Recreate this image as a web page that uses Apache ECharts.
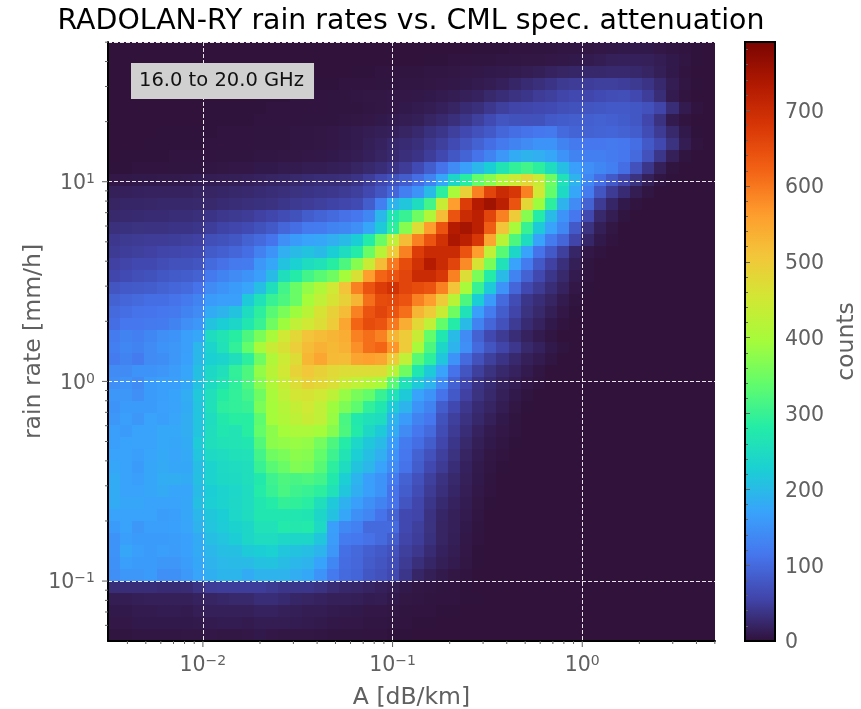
<!DOCTYPE html>
<html><head><meta charset="utf-8">
<style>html,body{margin:0;padding:0;background:#fff}#c{width:861px;height:709px}</style>
<script src="https://cdn.jsdelivr.net/npm/echarts@6/dist/echarts.min.js"></script>
</head><body><div id="c"></div>
<script>
// Histogram counts, top row (high rain rate) first, left to right.
// 50 log-spaced bins per axis; trailing zeros in a row are omitted.
const rowsTop = [
[0,0,0,0,0,0,0,0,0,0,0,0,0,0,0,0,0,0,0,0,0,0,0,0,0,0,0,0,0,0,1,1,1,2,2,3,3,4,4,5,6,7,8,8,8,6,4,2,1],
[0,0,0,0,0,0,0,0,0,0,0,0,0,0,0,0,0,0,0,0,0,0,0,0,0,0,1,1,2,2,3,3,4,4,5,5,6,7,8,10,12,15,16,16,15,12,8,4,1],
[0,0,0,0,0,0,0,0,0,0,0,0,0,0,0,0,0,0,0,0,1,1,2,2,3,3,4,4,5,6,7,8,9,10,12,14,18,20,22,24,24,26,26,24,20,14,8,2],
[0,0,0,0,0,0,0,0,0,0,0,0,0,0,0,0,1,1,1,2,2,2,3,3,4,4,5,6,7,8,10,12,16,22,28,32,38,44,46,48,50,50,48,44,38,26,12,4,1],
[0,0,0,0,0,0,0,0,0,0,0,0,1,1,1,2,2,2,3,3,4,5,5,6,6,7,8,10,12,15,18,25,30,36,40,46,50,55,60,58,62,66,68,60,48,30,10,2],
[0,0,0,0,0,0,0,0,1,1,1,1,1,2,2,2,2,2,3,3,3,4,5,6,8,10,12,16,20,28,32,42,50,55,58,60,62,68,72,75,78,80,80,78,70,55,30,10,2],
[0,0,0,0,0,0,0,0,1,1,1,1,2,2,2,2,3,3,3,4,5,6,8,10,12,14,20,26,32,40,50,62,75,72,70,72,80,84,86,88,90,88,84,78,58,36,10,2],
[0,0,0,0,1,1,1,1,1,2,2,2,3,3,3,4,4,5,6,8,10,12,14,16,20,26,34,40,50,60,70,80,95,105,110,115,118,100,92,90,92,94,90,85,65,45,25,8,1],
[0,0,0,1,1,1,1,1,2,2,2,2,3,3,3,4,4,5,6,8,10,14,18,24,28,32,42,50,62,76,90,105,118,130,140,150,150,130,118,115,115,118,115,105,80,60,35,12,2],
[0,1,1,1,1,2,2,2,2,3,3,3,4,4,5,5,6,7,8,10,12,16,20,26,32,38,48,60,78,92,110,130,155,180,190,185,175,150,130,125,125,122,115,100,70,40,15,3],
[1,1,2,2,2,3,3,3,4,5,6,6,8,8,10,10,12,12,14,16,20,25,30,38,46,62,85,110,140,165,195,225,265,295,310,290,250,205,165,145,135,125,105,70,40,15,3],
[6,7,8,8,9,9,10,11,12,13,14,16,18,20,22,25,28,30,30,32,38,48,60,72,85,105,130,175,240,285,340,370,410,445,480,440,350,260,190,135,105,80,55,35,15,4,1],
[15,16,17,18,18,18,18,20,20,22,24,26,28,30,32,35,38,40,42,45,50,60,75,95,125,150,200,290,400,490,590,660,700,680,590,450,340,245,175,120,75,45,28,12,4],
[20,22,22,23,24,24,24,25,25,28,30,32,34,36,40,44,46,50,54,58,62,85,125,190,215,250,310,440,560,670,730,750,720,640,480,390,290,190,140,90,45,22,8,2],
[25,26,27,28,28,30,30,32,38,42,44,46,52,58,65,72,85,92,100,108,115,135,195,270,300,350,410,520,640,700,720,660,590,500,370,280,200,150,115,60,25,12,3],
[33,34,35,36,36,38,38,40,48,54,58,62,72,80,95,105,118,120,130,135,145,175,220,290,370,470,560,640,730,745,720,630,510,400,300,220,170,135,80,35,14,5],
[42,44,45,46,46,48,50,52,68,72,78,90,100,112,145,160,170,175,185,200,225,280,345,430,520,590,640,690,740,720,680,550,420,320,250,170,120,95,55,22,8,2],
[45,48,50,52,55,58,60,62,82,88,95,105,128,150,185,200,210,200,225,250,280,345,420,500,590,670,700,700,700,640,560,430,330,240,170,110,80,50,22,6,2],
[52,56,60,60,66,70,72,75,100,108,118,122,155,175,210,230,250,260,285,320,370,440,520,600,650,690,730,700,660,580,460,360,260,170,120,80,52,32,14,3],
[58,62,68,72,78,82,85,90,118,130,140,150,165,200,255,280,310,330,350,395,465,560,620,640,660,700,700,680,590,470,360,280,200,130,90,60,40,25,10,2],
[75,80,82,85,90,95,100,110,140,150,160,172,205,255,310,345,380,410,450,510,590,640,670,690,660,650,640,590,510,400,300,220,150,95,60,45,30,18,6,1],
[90,95,100,105,105,110,118,130,160,165,165,220,260,300,320,345,395,430,460,490,530,610,650,655,640,590,560,500,420,320,225,160,100,65,40,30,20,10,3],
[100,105,110,112,115,118,130,140,180,190,210,250,290,330,360,390,420,460,490,520,590,640,660,640,610,530,500,440,350,260,165,120,85,55,35,25,14,6,1],
[105,115,115,118,120,130,145,155,210,225,240,270,300,350,390,430,450,470,500,550,620,650,640,600,540,480,430,340,280,200,130,95,70,45,28,18,8,2],
[120,130,125,135,145,150,165,175,250,265,285,320,360,400,450,480,510,520,530,540,590,610,590,530,500,440,340,270,200,140,90,60,45,30,18,10,4],
[125,135,130,140,150,155,165,195,235,260,295,340,400,440,465,495,520,535,525,535,575,610,620,570,500,400,320,240,190,145,100,75,55,42,25,17,8,3],
[120,130,120,140,144,155,168,197,227,235,255,290,350,410,444,471,528,550,524,520,553,558,550,500,430,330,290,215,150,100,70,50,38,26,15,10,4],
[140,140,150,150,154,162,173,207,243,257,295,320,380,420,452,488,506,490,476,470,470,470,470,420,350,270,220,170,110,75,50,35,25,18,10,4],
[145,150,140,160,164,165,176,209,247,267,292,320,370,410,440,470,490,480,468,442,427,416,400,330,260,220,190,140,90,60,38,28,18,12,6,2],
[155,155,145,160,164,171,182,217,257,283,295,310,350,400,430,455,460,450,425,384,357,340,300,260,220,170,150,110,80,52,35,25,15,8,3],
[150,160,160,160,167,170,181,212,258,290,295,300,360,395,415,435,450,430,390,362,335,294,270,220,190,150,130,85,60,42,28,20,12,5,1],
[155,165,155,170,166,172,183,212,250,275,285,285,335,395,410,425,440,430,385,316,274,258,250,190,160,130,115,72,50,36,24,15,8,3],
[165,160,170,170,177,177,183,212,254,270,265,285,340,375,395,405,405,395,370,320,278,244,220,180,140,115,100,65,45,30,18,10,6,2],
[165,170,170,170,177,174,181,221,255,262,265,270,325,375,380,385,380,355,320,280,241,216,200,160,120,105,85,58,40,25,14,8,4,1],
[170,170,165,172,178,172,178,213,245,250,258,260,310,350,360,375,370,340,305,265,226,205,185,150,115,90,70,50,35,20,11,5,2],
[175,170,160,175,179,174,176,205,234,245,250,255,300,330,345,365,360,330,290,250,211,194,170,140,110,85,60,45,30,17,9,4,1],
[180,170,165,175,182,183,180,206,233,243,248,255,275,305,320,315,320,310,275,226,191,166,150,120,90,70,50,36,25,15,8,3],
[180,170,170,175,179,173,173,201,225,233,241,250,280,300,316,306,300,290,260,214,184,166,150,110,85,65,45,32,22,13,7,2],
[180,175,175,170,170,170,175,206,226,233,242,250,270,280,296,293,286,255,218,188,164,146,130,110,75,58,40,27,18,11,5,1],
[170,170,170,170,163,166,175,196,216,225,241,250,270,270,270,270,266,240,208,174,147,134,110,90,60,55,36,22,15,10,4],
[160,170,155,165,165,168,172,190,213,222,232,240,260,260,276,273,276,245,165,138,127,100,100,100,60,50,35,20,15,8,3],
[150,165,160,160,160,163,168,181,204,213,223,240,250,250,242,240,240,215,162,120,117,108,100,85,55,48,34,20,14,7,2],
[150,175,165,160,164,162,168,180,195,204,206,220,225,230,214,210,204,192,155,106,97,88,80,70,50,42,28,17,12,6,1],
[148,165,160,160,155,154,163,176,190,198,200,200,208,210,202,196,190,171,136,103,96,83,75,65,45,32,22,14,10,5,1],
[145,155,155,160,145,146,158,172,186,193,193,180,190,190,190,183,176,150,118,100,94,78,70,60,40,22,14,9,5,2],
[30,30,30,30,28,28,29,36,46,48,48,48,48,44,40,40,40,36,29,24,23,19,16,12,8,5,4,3,2,1],
[12,12,14,15,15,15,15,18,20,23,25,25,30,30,27,22,20,18,15,15,14,11,12,8,5,4,3,2,2,1,1],
[8,8,10,10,11,11,10,13,15,15,15,15,18,18,15,14,12,12,10,9,8,6,6,5,3,2,2,1,1],
[6,6,8,8,8,8,8,9,10,11,11,10,12,12,12,11,10,9,7,6,6,4,4,3,2,1,1],
[3,3,4,4,4,4,5,5,6,5,5,6,8,6,5,5,5,4,3,3,3,2,2,1,1]
];
const xRange = [0.00316, 5.01];
const yRange = [0.0501, 50.1];
const binCount = 50;
const colorbarMax = 790;
const colorbarTicks = 100;
const xMajorTicks = [0.01, 0.1, 1];
const yMajorTicks = [0.1, 1, 10];
const xMinorTicks = [0.004,0.005,0.006,0.007,0.008,0.009,0.02,0.03,0.04,0.05,0.06,0.07,0.08,0.09,0.2,0.3,0.4,0.5,0.6,0.7,0.8,0.9,2,3,4,5];
const yMinorTicks = [0.06,0.07,0.08,0.09,0.2,0.3,0.4,0.5,0.6,0.7,0.8,0.9,2,3,4,5,6,7,8,9,20,30,40,50];
const turbo = ['#30123b','#4145ab','#4675ed','#39a2fc','#1bcfd4','#24eca6','#61fc6c','#a4fc3b','#d1e834','#f3c63a','#fe9b2d','#f36315','#d93806','#b11901','#7a0402'];

const font = '"DejaVu Sans"';
const grey = '#606060';
const edge = (r, i) => r[0] * Math.pow(r[1] / r[0], i / binCount);
const cells = [];
rowsTop.forEach((row, j) => row.forEach((v, i) => {
  if (v > 0) cells.push([edge(xRange, i), edge(xRange, i + 1),
    edge(yRange, binCount - j - 1), edge(yRange, binCount - j), v]);
}));
const sup = {
  b: {fontFamily: font, fontSize: 20.5, color: grey},
  s: {fontFamily: font, fontSize: 14, color: grey, padding: [0, 0, 9, 0]}
};
const logLabel = v => {
  const e = Math.round(Math.log10(v));
  return Math.abs(Math.log10(v) - e) < 1e-6 ? '{b|10}{s|' + String(e).replace('-', '\u2212') + '}' : '';
};
const tickSeries = (vals, isX, len) => ({
  type: 'custom', xAxisIndex: 0, yAxisIndex: 0, silent: true, clip: false, z: 6,
  data: vals.map(v => isX ? [v, yRange[0]] : [xRange[0], v]),
  encode: {x: 0, y: 1},
  renderItem: (p, api) => {
    const a = api.coord([api.value(0), api.value(1)]);
    return {type: 'line', silent: true,
      shape: isX ? {x1: a[0], y1: a[1], x2: a[0], y2: a[1] + len} : {x1: a[0], y1: a[1], x2: a[0] - len, y2: a[1]},
      style: {stroke: grey, lineWidth: 1}};
  }
});
const chart = echarts.init(document.getElementById('c'), null, {renderer: 'canvas'});
chart.setOption({
  animation: false,
  backgroundColor: '#ffffff',
  title: [
    {text: 'RADOLAN-RY rain rates vs. CML spec. attenuation', left: 406, top: 3, textAlign: 'center',
     textStyle: {fontFamily: font, fontSize: 28.4, fontWeight: 'normal', color: '#000'}},
    {text: '16.0 to 20.0 GHz', left: 131, top: 63, padding: [8, 10, 8, 8], backgroundColor: '#d0d0d0',
     textStyle: {fontFamily: font, fontSize: 19.5, fontWeight: 'normal', color: '#111'}, z: 20}
  ],
  grid: [
    {left: 108, top: 42, width: 607, height: 599, show: true, backgroundColor: '#30123b', borderWidth: 0, outerBoundsMode: 'none'},
    {left: 745, top: 42, width: 30, height: 599, show: false, outerBoundsMode: 'none'}
  ],
  xAxis: [
    {type: 'log', gridIndex: 0, min: xRange[0], max: xRange[1], logBase: 10, z: 5,
     name: 'A [dB/km]', nameLocation: 'middle', nameGap: 45, nameMoveOverlap: false,
     nameTextStyle: {fontFamily: font, fontSize: 23.5, color: grey},
     axisLine: {show: true, onZero: false, lineStyle: {color: '#000', width: 2}},
     axisTick: {show: false}, minorTick: {show: false},
     axisLabel: {show: true, margin: 13, formatter: logLabel, rich: sup},
     splitLine: {show: true, lineStyle: {color: 'rgba(255,255,255,0.9)', width: 1, type: [4, 2]}}},
    {type: 'value', gridIndex: 1, min: 0, max: 1, show: false}
  ],
  yAxis: [
    {type: 'log', gridIndex: 0, min: yRange[0], max: yRange[1], logBase: 10, z: 5,
     name: 'rain rate [mm/h]', nameLocation: 'middle', nameGap: 62, nameMoveOverlap: false,
     nameTextStyle: {fontFamily: font, fontSize: 23.5, color: grey},
     axisLine: {show: true, onZero: false, lineStyle: {color: '#000', width: 2}},
     axisTick: {show: false}, minorTick: {show: false},
     axisLabel: {show: true, margin: 13, padding: [4, 0, 0, 0], formatter: logLabel, rich: sup},
     splitLine: {show: true, lineStyle: {color: 'rgba(255,255,255,0.9)', width: 1, type: [4, 2]}}},
    {type: 'value', gridIndex: 1, position: 'right', min: 0, max: colorbarMax, interval: colorbarTicks, z: 8,
     name: 'counts', nameLocation: 'middle', nameGap: 60, nameMoveOverlap: false,
     nameTextStyle: {fontFamily: font, fontSize: 23.5, color: grey},
     axisLine: {show: false},
     axisTick: {show: true, length: 5, lineStyle: {color: grey}},
     minorTick: {show: true, splitNumber: 5, length: 3, lineStyle: {color: grey}},
     axisLabel: {margin: 10, padding: [4, 0, 0, 0], showMaxLabel: false,
       formatter: v => '{a|' + v + '}',
       rich: {a: {fontFamily: font, fontSize: 20.5, color: grey}}},
     splitLine: {show: false}, minorSplitLine: {show: false}}
  ],
  visualMap: {
    type: 'continuous', seriesIndex: 0, dimension: 4, min: 0, max: colorbarMax,
    left: 745, top: 42, itemWidth: 30, itemHeight: 599, padding: 0, text: null,
    showLabel: false, calculable: false, realtime: false, hoverLink: false, silent: true,
    inRange: {color: turbo}
  },
  graphic: [{type: 'rect', z: 50, silent: true, shape: {x: 745, y: 42, width: 30, height: 599},
    style: {fill: 'none', stroke: '#000', lineWidth: 2}}],
  series: [
    {type: 'custom', xAxisIndex: 0, yAxisIndex: 0, silent: true, clip: true, z: 1,
     progressive: 0, data: cells, encode: {x: [0, 1], y: [2, 3]},
     renderItem: (p, api) => {
       const a = api.coord([api.value(0), api.value(3)]);
       const b = api.coord([api.value(1), api.value(2)]);
       const x0 = Math.round(a[0]), y0 = Math.round(a[1]);
       return {type: 'rect', silent: true,
         shape: {x: x0, y: y0, width: Math.round(b[0]) - x0, height: Math.round(b[1]) - y0},
         style: {fill: api.visual('color')}};
     }},
    tickSeries(xMajorTicks, true, 6), tickSeries(xMinorTicks, true, 3),
    tickSeries(yMajorTicks, false, 6), tickSeries(yMinorTicks, false, 3)
  ]
});
</script></body></html>
